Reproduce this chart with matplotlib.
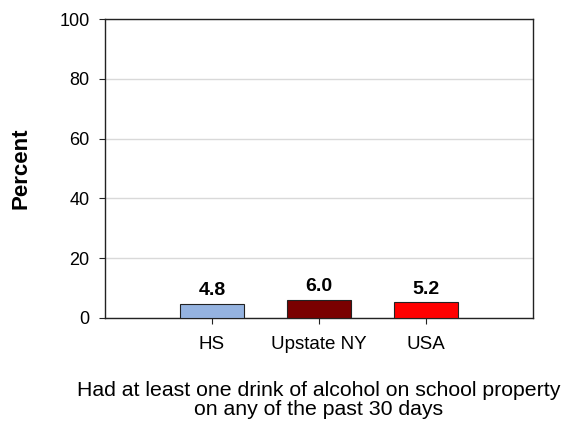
import matplotlib.pyplot as plt
import numpy as np

plt.rcParams['font.family'] = ['Liberation Sans', 'DejaVu Sans']

# Data
categories = ['HS', 'Upstate NY', 'USA']
values = [4.8, 6.0, 5.2]
bar_colors = ['#95b3e0', '#7a0000', '#ff0000']
y_ticks = [0, 20, 40, 60, 80, 100]

fig = plt.figure(figsize=(5.7, 4.25), dpi=100)
ax = fig.add_axes([0.184, 0.252, 0.751, 0.703])

x = np.arange(len(categories))
ax.bar(x, values, width=0.6, color=bar_colors, edgecolor='#222222', linewidth=0.8, zorder=3)

# Value labels above the bars
for xi, v in zip(x, values):
    ax.annotate(f'{v:.1f}', (xi, v), xytext=(0, 3.5), textcoords='offset points',
                ha='center', va='bottom', fontsize=14, fontweight='bold')

ax.set_xlim(-1, 3)
ax.set_ylim(0, 100)
ax.set_yticks(y_ticks)
ax.set_xticks(x)
ax.set_xticklabels(categories)
ax.tick_params(axis='y', labelsize=13, length=4, pad=7, color='#222222')
ax.tick_params(axis='x', labelsize=13.5, length=4, pad=9, color='#222222')

ax.grid(axis='y', color='#d9d9d9', linewidth=1, zorder=0)
for spine in ax.spines.values():
    spine.set_color('#222222')
    spine.set_linewidth(1)

ax.set_ylabel('Percent', fontsize=16, fontweight='bold', labelpad=20)
ax.set_xlabel('Had at least one drink of alcohol on school property\non any of the past 30 days',
              fontsize=15.3, labelpad=20, linespacing=1.05)

plt.savefig('out.png', dpi=100)
